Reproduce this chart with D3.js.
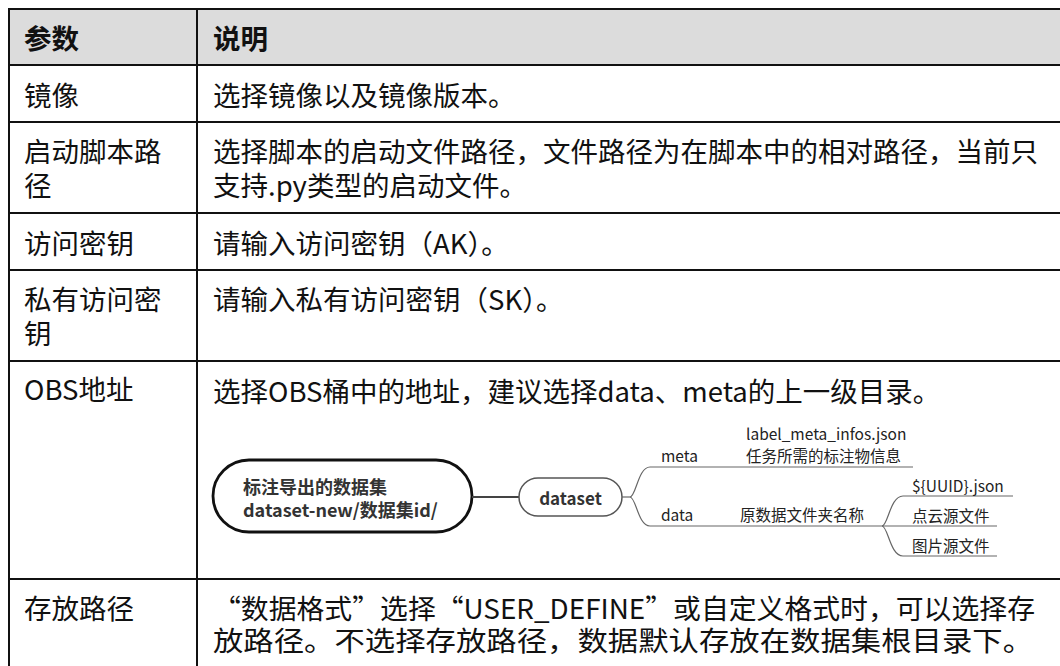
<!DOCTYPE html>
<html><head><meta charset="utf-8">
<script src="https://cdn.jsdelivr.net/npm/d3@7"></script>
<style>html,body{margin:0;padding:0;background:#fff;overflow:hidden}svg{display:block}</style>
</head><body>
<svg id="c" width="1060" height="666"></svg>
<script>
// ---- data ----
const headers = ["参数", "说明"];
const params = [["镜像"], ["启动脚本路", "径"], ["访问密钥"], ["私有访问密", "钥"], ["OBS地址"], ["存放路径"]];
const descriptions = [
  ["选择镜像以及镜像版本。"],
  ["选择脚本的启动文件路径，文件路径为在脚本中的相对路径，当前只", "支持.py类型的启动文件。"],
  ["请输入访问密钥（AK）。"],
  ["请输入私有访问密钥（SK）。"],
  ["选择OBS桶中的地址，建议选择data、meta的上一级目录。"],
  ["“数据格式”选择“USER_DEFINE”或自定义格式时，可以选择存", "放路径。不选择存放路径，数据默认存放在数据集根目录下。"]
];
const rootLabel = ["标注导出的数据集", "dataset-new/数据集id/"];
const childLabel = "dataset";
const branchLabels = ["meta", "data"];
const metaNotes = ["label_meta_infos.json", "任务所需的标注物信息"];
const dataNote = "原数据文件夹名称";
const dataLeaves = ["${UUID}.json", "点云源文件", "图片源文件"];

// ---- layout ----
const svg = d3.select("#c");
const FONT = "'Noto Sans CJK SC','Noto Sans',sans-serif";
const rowEdges = [9, 65, 122, 213, 270, 361, 579, 700];
const colX = [9, 197, 1062];
const ink = "#111";

// header background
svg.append("rect").attr("x", colX[0]).attr("y", rowEdges[0]).attr("width", colX[2]-colX[0]).attr("height", rowEdges[1]-rowEdges[0]).attr("fill", "#dcdcdc");

// horizontal lines
svg.selectAll("line.h").data(rowEdges.slice(0, 7)).join("line")
  .attr("x1", colX[0]-1).attr("x2", 1060).attr("y1", d => d).attr("y2", d => d)
  .attr("stroke", ink).attr("stroke-width", 2);
// vertical lines
svg.selectAll("line.v").data([colX[0], colX[1]]).join("line")
  .attr("x1", d => d).attr("x2", d => d).attr("y1", rowEdges[0]).attr("y2", 666)
  .attr("stroke", ink).attr("stroke-width", 2);

// header text
svg.selectAll("text.hd").data(headers).join("text")
  .attr("x", (d, i) => i === 0 ? 24 : 213).attr("y", 37)
  .attr("dominant-baseline", "central").attr("font-family", FONT)
  .attr("font-size", 27.5).attr("font-weight", "bold").attr("fill", ink).text(d => d);

const lineH = 34;
// first-line center y for each row
const firstY = [94, 150, 242, 298, 388, 607];
const descFirstY = [94, 150, 242, 298, 390, 607];
params.forEach((lines, r) => {
  lines.forEach((t, k) => {
    svg.append("text").attr("x", 24).attr("y", firstY[r] + k*lineH)
      .attr("dominant-baseline", "central").attr("font-family", FONT)
      .attr("font-size", 27.5).attr("fill", ink).text(t);
  });
});
descriptions.forEach((lines, r) => {
  const lh = r === 5 ? 32 : lineH;
  lines.forEach((t, k) => {
    const el = svg.append("text").attr("x", 213).attr("y", descFirstY[r] + k*lh)
      .attr("dominant-baseline", "central").attr("font-family", FONT)
      .attr("font-size", 27.5).attr("fill", ink).text(t);
    if (r === 5) el.attr("textLength", k === 0 ? 822 : 820).attr("lengthAdjust", "spacingAndGlyphs");
  });
});

// ---- mind map ----
const mm = svg.append("g");
const grey = "#666";
// root pill
mm.append("rect").attr("x", 213).attr("y", 460).attr("width", 259).attr("height", 72).attr("rx", 36)
  .attr("fill", "#fff").attr("stroke", "#111").attr("stroke-width", 2.8);
rootLabel.forEach((t, k) => {
  mm.append("text").attr("x", 243).attr("y", 486 + k*23).attr("dominant-baseline", "central")
    .attr("font-family", FONT).attr("font-size", 18).attr("font-weight", "bold").attr("fill", "#333").text(t);
});
// connector
mm.append("line").attr("x1", 472).attr("x2", 519).attr("y1", 497).attr("y2", 497).attr("stroke", "#444").attr("stroke-width", 2.2);
// dataset node
mm.append("rect").attr("x", 519).attr("y", 478).attr("width", 103).attr("height", 38).attr("rx", 19)
  .attr("fill", "#fff").attr("stroke", "#555").attr("stroke-width", 1.5);
mm.append("text").attr("x", 570.5).attr("y", 497).attr("text-anchor", "middle").attr("dominant-baseline", "central")
  .attr("font-family", FONT).attr("font-size", 17).attr("font-weight", "bold").attr("fill", "#333").text(childLabel);

function branch(x0, y0, x1, y1, xEnd) {
  return `M${x0},${y0} C${x0+6},${y0} ${x0+8},${y1} ${x1},${y1} L${xEnd},${y1}`;
}
// dataset -> meta / data
mm.append("path").attr("d", `M622,497 L630,497`).attr("stroke", grey).attr("fill", "none").attr("stroke-width", 1.2);
const branchY = d3.scalePoint().domain(branchLabels).range([467, 526]);
const branchEnd = {meta: 913, data: 882};
branchLabels.forEach(b => {
  mm.append("path").attr("d", branch(630, 497, 650, branchY(b), branchEnd[b]))
    .attr("stroke", grey).attr("fill", "none").attr("stroke-width", 1.2);
  mm.append("text").attr("x", 661).attr("y", branchY(b) - 12).attr("dominant-baseline", "central")
    .attr("font-family", FONT).attr("font-size", 15.5).attr("fill", "#222").text(b);
});
metaNotes.forEach((t, k) => {
  mm.append("text").attr("x", 746).attr("y", 433 + k*22).attr("dominant-baseline", "central")
    .attr("font-family", FONT).attr("font-size", 15.5).attr("fill", "#222").text(t);
});
mm.append("text").attr("x", 740).attr("y", branchY("data") - 12).attr("dominant-baseline", "central")
  .attr("font-family", FONT).attr("font-size", 15.5).attr("fill", "#222").text(dataNote);
// data leaves
const leafY = d3.scalePoint().domain(dataLeaves).range([496, 556]);
const leafEnd = [1013, 997, 997];
dataLeaves.forEach((t, i) => {
  const y = leafY(t);
  const d = y === 526 ? `M882,526 L${leafEnd[i]},526` : branch(882, 526, 903, y, leafEnd[i]);
  mm.append("path").attr("d", d).attr("stroke", grey).attr("fill", "none").attr("stroke-width", 1.2);
  mm.append("text").attr("x", 912).attr("y", y - 11).attr("dominant-baseline", "central")
    .attr("font-family", FONT).attr("font-size", 15.5).attr("fill", "#222").text(t);
});
</script>
</body></html>
